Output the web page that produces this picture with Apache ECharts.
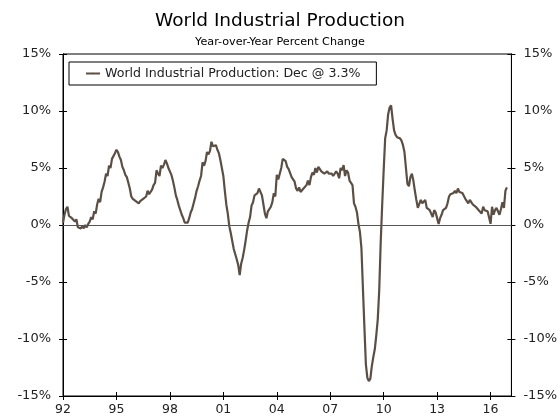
<!DOCTYPE html>
<html>
<head>
<meta charset="utf-8">
<title>World Industrial Production</title>
<script src="https://cdn.jsdelivr.net/npm/echarts@6/dist/echarts.min.js"></script>
<style>
  html, body { margin: 0; padding: 0; background: #fff; }
  #chart { width: 560px; height: 419px; }
</style>
</head>
<body>
<div id="chart"></div>
<script>
// year-over-year % change, monthly, Jan 1992 - Dec 2016 (one array per year)
const startYear = 1992
const yoy1992 = [0.2, 0.9, 1.4, 1.6, 0.8, 0.9, 0.6, 0.5, 0.3, 0.5, -0.2, -0.1]
const yoy1993 = [-0.3, -0.1, -0.3, 0.0, -0.2, 0.1, 0.3, 0.7, 0.5, 1.2, 1.0, 1.8]
const yoy1994 = [2.3, 2.0, 2.9, 3.3, 3.8, 4.5, 4.3, 5.2, 5.0, 5.8, 5.7, 6.3]
const yoy1995 = [6.6, 6.4, 6.0, 5.7, 5.1, 4.8, 4.4, 4.2, 3.7, 3.2, 2.5, 2.3]
const yoy1996 = [2.2, 2.1, 2.0, 1.9, 2.1, 2.0, 2.3, 2.2, 2.5, 3.0, 2.7, 2.9]
const yoy1997 = [3.1, 3.5, 3.7, 4.8, 4.5, 4.3, 5.2, 5.0, 5.3, 5.7, 5.4, 5.0]
const yoy1998 = [4.7, 4.4, 3.9, 3.3, 2.6, 2.2, 1.7, 1.3, 0.9, 0.6, 0.2, 0.1]
const yoy1999 = [0.2, 0.6, 1.1, 1.4, 1.9, 2.4, 3.0, 3.4, 3.9, 4.3, 5.5, 5.2]
const yoy2000 = [5.6, 6.4, 6.2, 6.5, 7.3, 6.9, 6.8, 7.0, 6.6, 6.3, 5.7, 5.0]
const yoy2001 = [4.3, 3.0, 1.8, 1.0, -0.1, -0.7, -1.4, -2.1, -2.2, -3.0, -3.5, -4.4]
const yoy2002 = [-3.4, -2.9, -2.2, -1.4, -0.5, 0.2, 0.7, 1.7, 2.0, 2.6, 2.5, 2.8]
const yoy2003 = [3.2, 3.1, 2.6, 1.8, 1.0, 0.6, 1.2, 1.4, 1.6, 2.0, 2.8, 2.5]
const yoy2004 = [4.4, 4.0, 4.5, 5.0, 5.8, 5.9, 5.6, 5.1, 4.9, 4.8, 4.2, 4.0]
const yoy2005 = [3.8, 3.2, 3.0, 3.3, 2.9, 3.0, 3.2, 3.3, 3.5, 3.9, 3.5, 4.2]
const yoy2006 = [4.6, 4.4, 5.0, 4.6, 5.1, 4.9, 4.7, 4.6, 4.5, 4.6, 4.7, 4.5]
const yoy2007 = [4.4, 4.5, 4.3, 4.4, 4.7, 4.5, 4.1, 5.0, 4.8, 5.25, 4.3, 4.8]
const yoy2008 = [4.6, 3.9, 4.0, 3.5, 1.9, 1.6, 1.1, 0.1, -0.6, -2.0, -5.5, -8.9]
const yoy2009 = [-12.2, -13.4, -13.7, -13.5, -12.4, -11.6, -10.9, -9.7, -8.3, -5.7, -1.5, 1.8]
const yoy2010 = [4.8, 7.6, 8.3, 9.7, 10.3, 10.5, 9.3, 8.3, 7.9, 7.7, 7.8, 7.6]
const yoy2011 = [7.4, 7.0, 6.4, 5.0, 3.6, 3.4, 4.2, 4.5, 3.9, 3.0, 2.2, 1.5]
const yoy2012 = [1.4, 2.2, 1.9, 2.0, 2.2, 1.5, 1.6, 1.3, 1.0, 0.7, 1.3, 1.1]
const yoy2013 = [1.0, 0.1, 0.6, 0.9, 1.3, 1.2, 1.5, 1.9, 2.5, 2.7, 2.6, 2.8]
const yoy2014 = [3.0, 2.8, 3.2, 2.9, 3.0, 2.8, 2.7, 2.3, 2.4, 1.9, 2.2, 2.0]
const yoy2015 = [1.8, 1.7, 1.6, 1.5, 1.3, 1.2, 1.0, 1.6, 1.3, 1.45, 1.2, 1.3]
const yoy2016 = [0.1, 1.6, 0.9, 1.3, 1.5, 1.6, 0.9, 1.4, 2.0, 1.5, 3.0, 3.3]

const yearly = [yoy1992, yoy1993, yoy1994, yoy1995, yoy1996, yoy1997, yoy1998, yoy1999,
  yoy2000, yoy2001, yoy2002, yoy2003, yoy2004, yoy2005, yoy2006, yoy2007, yoy2008,
  yoy2009, yoy2010, yoy2011, yoy2012, yoy2013, yoy2014, yoy2015, yoy2016]

const yTicks = [-15, -10, -5, 0, 5, 10, 15]
const seriesName = 'World Industrial Production: Dec @ 3.3%'

// [decimal year, value]
const points = []
yearly.forEach((arr, y) => {
  arr.forEach((v, m) => points.push([startYear + y + m / 12, v]))
})

const lineColor = '#5b4f45'
const font = 'Verdana, "DejaVu Sans", sans-serif'
const labelColor = '#222'

const yBase = {
  type: 'value',
  min: yTicks[0],
  max: yTicks[yTicks.length - 1],
  interval: 5,
  splitLine: { show: false },
  axisLine: { show: true, lineStyle: { color: '#000', width: 1 } }
}
const xBase = {
  type: 'value',
  position: 'bottom',
  min: 1992,
  max: 2017.17,
  interval: 3,
  splitLine: { show: false },
  axisLine: { show: true, onZero: false, lineStyle: { color: '#000', width: 1 } }
}

const option = {
  animation: false,
  backgroundColor: '#fff',
  textStyle: { fontFamily: font },
  title: [
    {
      text: 'World Industrial Production',
      left: 'center',
      top: 7,
      textStyle: { fontFamily: font, fontSize: 18.5, fontWeight: 'normal', color: '#000' }
    },
    {
      text: 'Year-over-Year Percent Change',
      left: 'center',
      top: 32,
      textStyle: { fontFamily: font, fontSize: 11.2, fontWeight: 'normal', color: '#000' }
    }
  ],
  legend: {
    left: 69,
    top: 62,
    padding: [5, 16, 5, 16],
    borderColor: '#000',
    borderWidth: 1,
    itemWidth: 14,
    itemHeight: 2,
    itemGap: 0,
    textStyle: { fontFamily: font, fontSize: 12.6, color: labelColor },
    data: [{ name: seriesName }]
  },
  grid: {
    left: 63,
    right: 45,
    top: 54,
    bottom: 23,
    show: true,
    borderColor: '#000',
    borderWidth: 1
  },
  xAxis: [
    Object.assign({}, xBase, {
      axisTick: { show: true, inside: false, length: 4, lineStyle: { color: '#000' } },
      axisLabel: {
        showMaxLabel: false,
        color: labelColor,
        fontSize: 12.5,
        fontFamily: font,
        margin: 7,
        formatter: v => String(Math.round(v) % 100).padStart(2, '0')
      }
    }),
    Object.assign({}, xBase, {
      axisTick: { show: true, inside: true, length: 4, lineStyle: { color: '#000' } },
      axisLabel: { show: false }
    })
  ],
  yAxis: [
    Object.assign({}, yBase, {
      position: 'left',
      axisTick: { show: true, inside: false, length: 4, lineStyle: { color: '#000' } },
      axisLabel: { color: labelColor, fontSize: 13, fontFamily: font, margin: 12, formatter: '{value}%' }
    }),
    Object.assign({}, yBase, {
      position: 'right',
      axisTick: { show: true, inside: false, length: 4, lineStyle: { color: '#000' } },
      axisLabel: { color: labelColor, fontSize: 13, fontFamily: font, margin: 12, formatter: '{value}%' }
    }),
    Object.assign({}, yBase, {
      position: 'left',
      axisTick: { show: true, inside: true, length: 4, lineStyle: { color: '#000' } },
      axisLabel: { show: false }
    }),
    Object.assign({}, yBase, {
      position: 'right',
      axisTick: { show: true, inside: true, length: 4, lineStyle: { color: '#000' } },
      axisLabel: { show: false }
    })
  ],
  series: [
    {
      name: seriesName,
      type: 'line',
      xAxisIndex: 0,
      yAxisIndex: 0,
      data: points,
      symbol: 'none',
      lineStyle: { color: lineColor, width: 2.2 },
      itemStyle: { color: lineColor },
      markLine: {
        silent: true,
        symbol: 'none',
        label: { show: false },
        lineStyle: { color: '#555', width: 1.2, type: 'solid' },
        data: [{ yAxis: 0 }]
      },
      z: 3
    }
  ]
}

const chart = echarts.init(document.getElementById('chart'))
chart.setOption(option)
</script>
</body>
</html>
